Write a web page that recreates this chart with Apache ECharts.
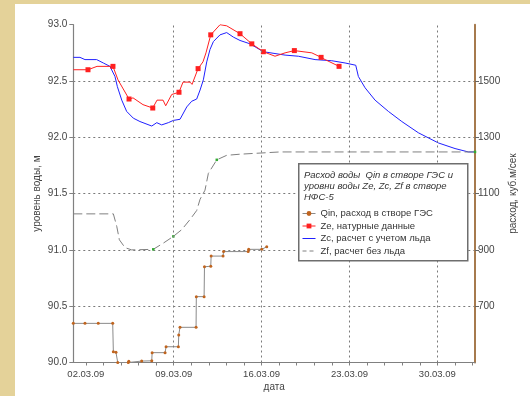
<!DOCTYPE html>
<html><head><meta charset="utf-8">
<script src="https://cdn.jsdelivr.net/npm/echarts@6.0.0/dist/echarts.min.js"></script>
<style>html,body{margin:0;padding:0;background:#e4d299;}#c{width:530px;height:396px;}</style>
</head><body><div id="c"></div>
<script>
// x values are days of March 2009 (33 = 02.04.09)
const dateTickDays = [2, 9, 16, 23, 30];
const dateTickLabels = ['02.03.09', '09.03.09', '16.03.09', '23.03.09', '30.03.09'];
const gridDays = [9, 16, 23, 30];

const qinDays = [1.0,1.93,2.99,4.14,4.19,4.40,4.54,5.38,5.42,6.45,7.25,7.28,8.31,8.39,9.37,9.40,9.50,10.78,10.80,11.42,11.45,11.95,11.98,12.93,12.97,14.93,14.97,16.01,16.41];
const qinFlow = [639,639,639,639,538,536,500,500,504,505,506,535,535,556,556,598,625,625,734,734,840,842,878,878,894,894,902,902,911];

const zeDays = [1.0,2.17,2.89,4.16,4.56,5.44,5.76,6.55,7.33,7.67,8.15,8.36,8.84,9.42,9.74,10.30,10.46,10.94,11.33,11.57,11.95,12.69,13.22,14.28,15.22,16.14,17.07,17.87,18.61,20.0,20.74,21.06,22.17];
const zeLevels = [92.60,92.60,92.63,92.63,92.51,92.34,92.35,92.29,92.26,92.33,92.33,92.28,92.38,92.40,92.49,92.49,92.47,92.61,92.67,92.75,92.91,93.00,92.99,92.92,92.83,92.76,92.72,92.75,92.77,92.75,92.71,92.69,92.63];
const zeObserved = [0,1,0,1,0,1,0,0,1,0,0,0,0,1,0,0,0,1,0,0,1,0,0,1,1,1,0,0,1,0,1,0,1];

const zcDays = [1.0,1.53,1.93,2.86,3.39,3.92,4.32,4.51,4.86,5.25,5.78,6.31,7.25,7.65,8.04,8.57,8.97,9.50,10.04,10.43,10.83,11.10,11.36,11.63,11.89,12.16,12.69,13.22,13.75,14.28,15.08,16.14,17.87,18.93,20.26,21.59,22.65,23.50,23.71,24.24,25.04,26.10,27.17,28.49,30.08,31.41,32.47,33.0];
const zcLevels = [92.71,92.71,92.69,92.69,92.66,92.63,92.54,92.45,92.33,92.23,92.17,92.14,92.10,92.13,92.11,92.13,92.15,92.16,92.27,92.32,92.34,92.42,92.51,92.67,92.78,92.85,92.91,92.93,92.89,92.86,92.83,92.76,92.73,92.72,92.69,92.68,92.66,92.64,92.54,92.44,92.33,92.23,92.14,92.04,91.95,91.90,91.87,91.87];

const zfDays = [1.0,4.19,4.46,4.67,5.12,5.65,7.37,8.17,8.97,9.64,10.30,10.83,11.10,11.49,11.76,12.43,13.22,14.28,15.88,17.47,33.0];
const zfLevels = [91.32,91.32,91.21,91.09,91.02,91.00,91.005,91.06,91.12,91.18,91.27,91.35,91.45,91.53,91.68,91.80,91.84,91.85,91.86,91.87,91.87];
const zfMarked = [0,0,0,0,0,0,1,0,1,0,0,0,0,0,0,1,0,0,0,0,1];

const names = ['Qin, расход в створе ГЭС', 'Ze, натурные данные', 'Zc, расчет с учетом льда', 'Zf, расчет без льда'];
const legendTitle = 'Расход воды  Qin в створе ГЭС и\nуровни воды Ze, Zc, Zf в створе\nНФС-5';

const FF = '"Liberation Sans", Arial, sans-serif';
const xTicks = [];
for (let k = 0; k <= 22; k++) { const v = +(2 + 1.4 * k).toFixed(2); if (v <= 33) xTicks.push(v); }

const chart = echarts.init(document.getElementById('c'), null, {renderer: 'canvas'});
chart.setOption({
  animation: false,
  backgroundColor: '#e4d299',
  textStyle: {fontFamily: FF},
  graphic: [
    {type: 'rect', left: 15, top: 4, z: -100, shape: {width: 515, height: 392}, style: {fill: '#ffffff'}},
    {type: 'rect', left: 298, top: 163, z: 10, shape: {width: 169, height: 97}, style: {fill: '#ffffff', stroke: '#6e6e6e', lineWidth: 1.5}}
  ],
  title: {
    text: legendTitle, left: 304, top: 170, padding: 0, z: 20,
    textStyle: {fontFamily: FF, fontStyle: 'italic', fontWeight: 'normal', fontSize: 9.5, lineHeight: 11, color: '#333'}
  },
  legend: {
    orient: 'vertical', left: 302, top: 208.5, padding: 0, itemGap: 2.5, z: 20,
    itemWidth: 13, itemHeight: 6,
    textStyle: {fontFamily: FF, fontSize: 9.5, color: '#333', padding: [0, 0, 0, 0]},
    data: [
      {name: names[0], itemStyle: {color: '#c0641e'}, lineStyle: {color: '#8a8a8a', width: 1}},
      {name: names[1], itemStyle: {color: '#ff2020'}, lineStyle: {color: '#ff2020', width: 1}},
      {name: names[2], itemStyle: {opacity: 0}, lineStyle: {color: '#2020ff', width: 1}},
      {name: names[3], itemStyle: {opacity: 0}, lineStyle: {color: '#808080', width: 1, type: [4, 3]}}
    ]
  },
  grid: {left: 73.3, right: 55, top: 24.7, bottom: 33.5, outerBoundsMode: 'none', containLabel: false},
  xAxis: {
    type: 'value', min: 1, max: 33,
    name: 'дата', nameLocation: 'middle', nameGap: 20, nameMoveOverlap: false,
    nameTextStyle: {fontFamily: FF, fontSize: 10, color: '#444'},
    axisLine: {show: true, onZero: false, lineStyle: {color: '#808080', width: 1}},
    axisTick: {show: true, customValues: xTicks, length: 3, lineStyle: {color: '#808080'}},
    axisLabel: {customValues: dateTickDays, fontSize: 9.5, color: '#444', margin: 7,
      formatter: v => { const i = dateTickDays.findIndex(d => Math.abs(d - v) < 1e-6); return i >= 0 ? dateTickLabels[i] : ''; }},
    splitLine: {show: false}
  },
  yAxis: [
    {
      type: 'value', min: 90, max: 93, interval: 0.5, position: 'left',
      name: 'уровень воды, м', nameLocation: 'middle', nameGap: 31, nameRotate: 90, nameMoveOverlap: false,
      nameTextStyle: {fontFamily: FF, fontSize: 10, color: '#444'},
      axisLine: {show: true, lineStyle: {color: '#808080', width: 1.2}},
      axisTick: {show: true, length: 4, lineStyle: {color: '#808080'}},
      axisLabel: {formatter: v => v.toFixed(1), fontSize: 10, color: '#444', margin: 6},
      splitLine: {show: true, showMinLine: false, showMaxLine: false, lineStyle: {type: [2, 3], color: '#7a7a7a', width: 1}}
    },
    {
      type: 'value', min: 500, max: 1700, interval: 200, position: 'right',
      name: 'расход, куб.м/сек', nameLocation: 'middle', nameGap: 33, nameRotate: 90, nameMoveOverlap: false,
      nameTextStyle: {fontFamily: FF, fontSize: 10, color: '#444'},
      axisLine: {show: true, lineStyle: {color: '#a67a4e', width: 2}},
      axisTick: {show: true, length: 4, lineStyle: {color: '#666'}},
      axisLabel: {showMinLabel: false, showMaxLabel: false, fontSize: 10, color: '#444', margin: 3,
        formatter: v => String(v)},
      splitLine: {show: false}
    }
  ],
  series: [
    {
      name: names[0], type: 'line', yAxisIndex: 1, color: '#c0641e',
      data: qinDays.map((d, i) => [d, qinFlow[i]]),
      symbol: 'circle', symbolSize: 3, showSymbol: true,
      lineStyle: {color: '#8a8a8a', width: 1}, itemStyle: {color: '#c0641e'}, z: 3
    },
    {
      name: names[1], type: 'line', yAxisIndex: 0, color: '#ff2020',
      data: zeDays.map((d, i) => ({value: [d, zeLevels[i]], symbol: zeObserved[i] ? 'rect' : 'none'})),
      symbol: 'rect', symbolSize: 5, showSymbol: true,
      lineStyle: {color: '#ff2020', width: 1}, itemStyle: {color: '#ff2020'}, z: 4
    },
    {
      name: names[2], type: 'line', yAxisIndex: 0, color: '#2020ff',
      data: zcDays.map((d, i) => [d, zcLevels[i]]),
      symbol: 'none', lineStyle: {color: '#2020ff', width: 1}, z: 3,
      markLine: {
        silent: true, symbol: ['none', 'none'], label: {show: false},
        lineStyle: {type: [2, 3], color: '#7a7a7a', width: 1},
        emphasis: {disabled: true},
        data: gridDays.map(d => ({xAxis: d}))
      }
    },
    {
      name: names[3], type: 'line', yAxisIndex: 0, color: '#808080',
      data: zfDays.map((d, i) => ({value: [d, zfLevels[i]], symbol: zfMarked[i] ? 'rect' : 'none'})),
      symbol: 'none', symbolSize: 2.5,
      lineStyle: {color: '#808080', width: 1, type: [9, 4]}, itemStyle: {color: '#33aa33'}, z: 3
    }
  ]
});
</script></body></html>
